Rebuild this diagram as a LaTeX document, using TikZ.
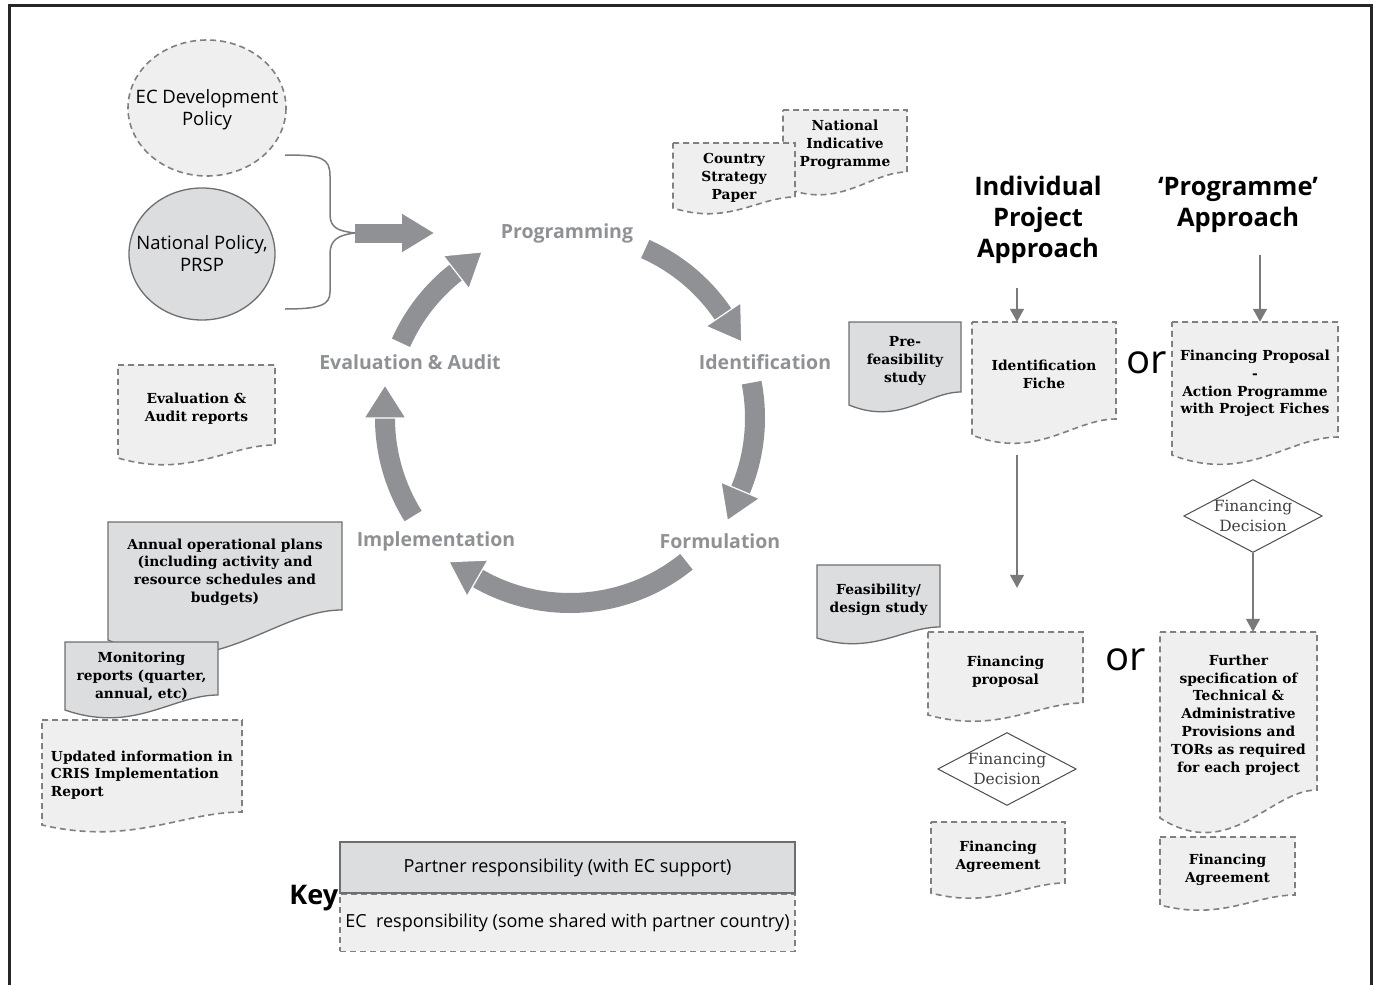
\documentclass[tikz,border=0pt]{standalone}
\usepackage{fontspec}
\setmainfont{DejaVu Serif}
\newfontfamily\sansfont{Open Sans}
\usepackage{tikz}
\usetikzlibrary{arrows.meta,positioning,shapes.geometric,calc}
\definecolor{ecfill}{HTML}{EFEFEF}
\definecolor{ptfill}{HTML}{DCDDDF}
\definecolor{ecline}{HTML}{808080}
\definecolor{ptline}{HTML}{6E6E6E}
\definecolor{cycgray}{HTML}{8F9195}
\definecolor{flowgray}{HTML}{7A7A7A}
\tikzset{
  ecdoc/.style={draw=ecline, fill=ecfill, line width=1.6pt, dash pattern=on 6pt off 4pt},
  ptdoc/.style={draw=ptline, fill=ptfill, line width=1.3pt},
  doctext/.style={font=\fontsize{13.8}{17.8}\selectfont\bfseries, align=center, inner sep=0pt, yshift=-4pt},
  policytext/.style={font=\sansfont\fontsize{18.5}{22}\selectfont, align=center},
  cyclabel/.style={font=\sansfont\fontsize{19.5}{22}\selectfont\bfseries, text=cycgray},
  cycband/.style={draw=cycgray, line width=20pt},
  cychead/.style={fill=cycgray, draw=white, line width=1.2pt},
  title/.style={font=\sansfont\fontsize{25.5}{31}\selectfont\bfseries, align=center},
  ortext/.style={font=\sansfont\fontsize{40}{40}\selectfont},
  decision/.style={diamond, draw=black!70, line width=1pt, fill=white, aspect=1.9,
                   inner sep=0pt, font=\fontsize{15.5}{20}\selectfont, text=black!75, align=center},
  flow/.style={draw=flowgray, line width=1.4pt, -{Triangle[length=13pt,width=14pt]}},
  keybox/.style={minimum width=455pt, font=\sansfont\fontsize{18}{20}\selectfont},
}
% document shape: style, name, x1, top, x2, bottom right, drop, text
\newcommand{\docbox}[9][]{%
  \draw[#2] (#4,#5) -- (#6,#5) -- (#6,#7)
    .. controls ({#4+0.7*(#6-#4)},#7) and ({#4+0.45*(#6-#4)},{#7+2.6*#8}) .. (#4,{#7+#8}) -- cycle;
  \node[doctext, minimum width={(#6-#4)*1pt}, minimum height={(#7-#5)*1pt}, #1] (#3)
    at ({(#4+#6)/2},{(#5+#7)/2}) {#9};
}

\begin{document}
\begin{tikzpicture}[x=1pt, y=-1pt]
\useasboundingbox (0,0) rectangle (1377,985);
% Frame
\draw[black!85, line width=3pt] (9,995) -- (9,5) -- (1371,5) -- (1371,995);

% Policies
\draw[ecdoc] (207,108) ellipse [x radius=79, y radius=68];
\node[policytext] (ecdev) at (207,110) {EC Development\\Policy};
\draw[ptdoc] (202,254) ellipse [x radius=73, y radius=66];
\node[policytext] (natpol) at (202,254) {National Policy,\\PRSP};

% Brace and feed arrow
\coordinate (brace) at (355,233);
\coordinate (feed) at (434,233);
\draw[flowgray, line width=1.5pt] (285,155) .. controls (322,155) and (330,158) .. (330,176) -- (330,214)
  .. controls (330,228) and (338,231) .. (brace);
\draw[flowgray, line width=1.5pt] (brace) .. controls (338,235) and (330,240) .. (330,254) -- (330,292)
  .. controls (330,305) and (320,309) .. (285,309);
\draw[draw=cycgray, line width=19pt, -{Triangle[length=32pt,width=36pt]}] (brace) -- (feed);

% Cycle
\coordinate (cyc) at (570,418);
\foreach \s/\e in {294/326, 349/383, 51/120, 148/180, 204/232}{
  \draw[cycband] ($(cyc)+(\s:185)$) arc[start angle=\s, end angle=\e, radius=185];
  \filldraw[cychead] ($(cyc)+(\e:164)$) -- ($(cyc)+(\e:206)$) -- ($(cyc)+(\e:185)+(\e+90:33)$) -- cycle;
}
\node[cyclabel] (prog) at (567,233) {Programming};
\node[cyclabel] (ident) at (765,362) {Identification};
\node[cyclabel] (form) at (720,541) {Formulation};
\node[cyclabel] (impl) at (436,541) {Implementation};
\node[cyclabel] (evala) at (410,362) {Evaluation \& Audit};

% Programming documents
\docbox{ecdoc}{nip}{783}{110}{907}{172}{15}{National\\Indicative\\Programme}
\docbox[yshift=-4pt]{ecdoc}{csp}{673}{143}{795}{197}{11}{Country\\Strategy\\Paper}

% Left documents
\docbox{ecdoc}{evalrep}{118}{365}{275}{445}{13}{Evaluation \&\\Audit reports}
\docbox[yshift=-2pt]{ptdoc}{annual}{108}{522}{342}{610}{30}{Annual operational plans\\(including activity and\\resource schedules and\\budgets)}
\docbox[yshift=-4pt]{ptdoc}{monit}{65}{642}{218}{695}{15}{Monitoring\\reports (quarter,\\annual, etc)}
\docbox[align=left, yshift=-5pt]{ecdoc}{cris}{42}{720}{242}{812}{13}{Updated information in\\CRIS Implementation\\Report}

% Approaches
\node[title] (indiv) at (1038,220) {Individual\\Project\\Approach};
\node[title] (progapp) at (1238,205) {‘Programme’\\Approach};
\coordinate (indivfoot) at (1017,288);
\coordinate (progfoot) at (1260,255);

\docbox{ptdoc}{prefeas}{849}{322}{961}{392}{13}{Pre-\\feasibility\\study}
\docbox{ecdoc}{idfiche}{972}{322}{1116}{419}{16}{Identification\\Fiche}
\docbox{ecdoc}{actprog}{1172}{322}{1338}{437}{18}{Financing Proposal\\-\\Action Programme\\with Project Fiches}
\node[ortext] (or1) at (1147,363) {or};

\node[decision] (findec2) at (1253,516) {Financing\\Decision};

\docbox{ptdoc}{feas}{817}{565}{940}{627}{11}{Feasibility/\\design study}
\docbox{ecdoc}{finprop}{928}{632}{1083}{703}{12}{Financing\\proposal}
\node[decision] (findec1) at (1007,769) {Financing\\Decision};
\docbox{ecdoc}{finagr1}{931}{822}{1065}{883}{10}{Financing\\Agreement}
\node[ortext] (or2) at (1126,660) {or};

\docbox{ecdoc}{further}{1160}{632}{1317}{790}{28}{Further\\specification of\\Technical \&\\Administrative\\Provisions and\\TORs as required\\for each project}
\docbox{ecdoc}{finagr2}{1160}{837}{1295}{895}{10}{Financing\\Agreement}

% Flow arrows
\draw[flow] (indivfoot) -- ($(indivfoot |- idfiche.north)+(0,-4)$);
\draw[flow] (progfoot) -- ($(progfoot |- actprog.north)+(0,-4)$);
\draw[flow] ($(idfiche.south -| indivfoot)+(0,32)$) -- ($(finprop.north -| indivfoot)+(0,-48)$);
\draw[flow] (findec2.south) -- ($(findec2.south |- further.north)+(0,-4)$);

% Key
\node[keybox, ptdoc, minimum height=51pt] (kpartner) at (567.5,867.5) {Partner responsibility (with EC support)};
\node[keybox, ecdoc, minimum height=57pt, below=0pt of kpartner] (kec) {EC\ \ responsibility (some shared with partner country)};
\node[font=\sansfont\fontsize{27}{27}\selectfont\bfseries, anchor=east, inner sep=1pt] (key) at ([yshift=-4pt]kpartner.south west) {Key};
\end{tikzpicture}
\end{document}
